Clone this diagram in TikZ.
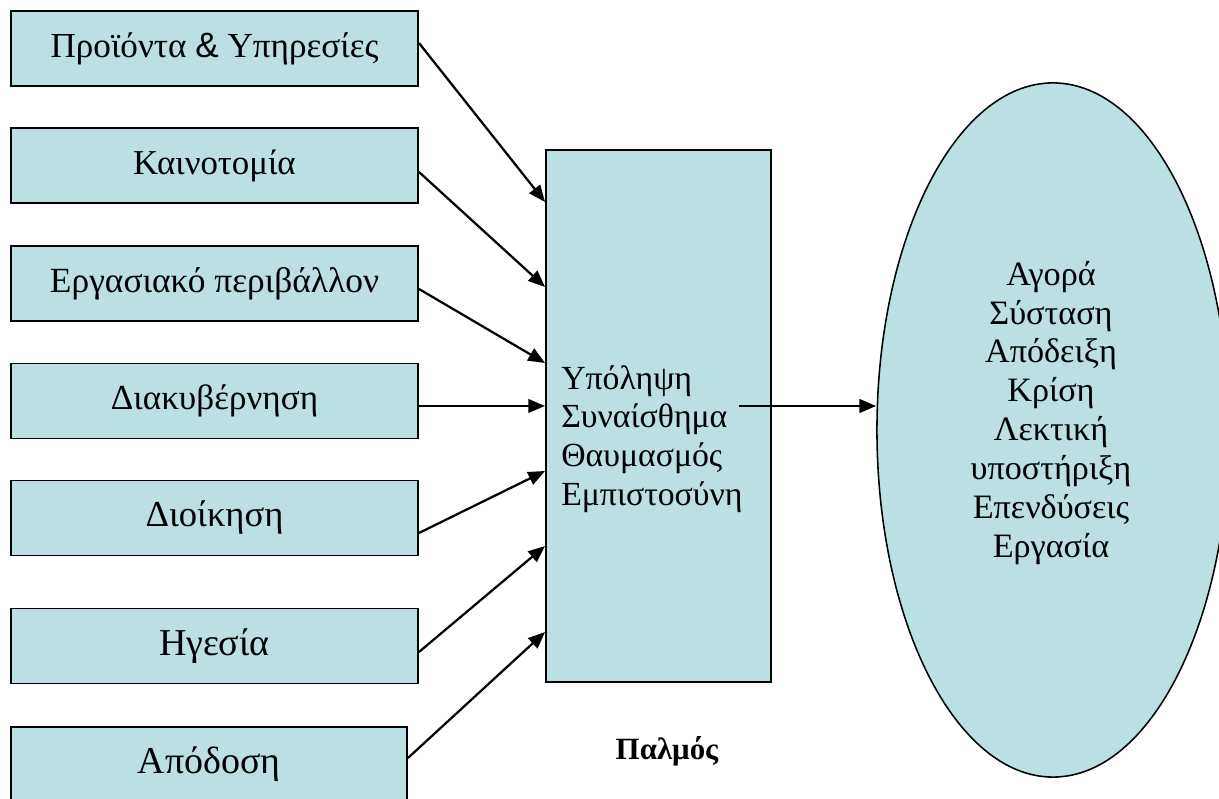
\documentclass[tikz,border=0pt]{standalone}
\usepackage{fontspec}
\setmainfont{Liberation Serif}
\setsansfont{Liberation Sans}
\usepackage{tikz}
\usetikzlibrary{shapes.geometric}
\usetikzlibrary{arrows.meta}
\usetikzlibrary{calc}
\definecolor{boxblue}{RGB}{186,224,227}
\tikzstyle{factor}=[rectangle, draw, line width=1.3pt, fill=boxblue, minimum width=10.175cm, minimum height=1.875cm, inner sep=0pt, font=\fontsize{25}{28}\selectfont]
\tikzstyle{flow}=[line width=1.6pt, -{Triangle[length=0.42cm, width=0.34cm]}]

\begin{document}
\begin{tikzpicture}[x=0.025cm, y=-0.025cm]
            \clip (0,0) rectangle (1219,799);
            % Παράγοντες
            \node[factor] (b1) at (214.5,48.5) {Προϊόντα {\sffamily\&} Υπηρεσίες};
            \node[factor, font=\fontsize{24.8}{28}\selectfont] (b2) at (214.5,165.5) {Καινοτομία};
            \node[factor, font=\fontsize{25.2}{28}\selectfont] (b3) at (214.5,283.5) {Εργασιακό περιβάλλον};
            \node[factor] (b4) at (214.5,401) {Διακυβέρνηση};
            \node[factor, font=\fontsize{26}{28}\selectfont] (b5) at (214.5,518) {Διοίκηση};
            \node[factor, font=\fontsize{27}{28}\selectfont] (b6) at (214.5,646) {Ηγεσία};
            \node[factor, minimum width=9.9cm, font=\fontsize{27}{28}\selectfont] (b7) at (209,764.5) {Απόδοση};
            % Παλμός
            \node[rectangle, draw, line width=1.3pt, fill=boxblue, minimum width=5.625cm, minimum height=13.3cm] (pulse) at (658.5,416) {};
            \node[anchor=west, align=left, inner sep=0pt, font=\fontsize{24}{27.5}\selectfont] (pulsetxt) at (561,439) {Υπόληψη\\Συναίσθημα\\Θαυμασμός\\Εμπιστοσύνη};
            \node[font=\fontsize{22}{24}\selectfont\bfseries] (pulselbl) at (667,751) {Παλμός};
            % Αποτελέσματα
            \node[ellipse, draw, line width=1.1pt, fill=boxblue, minimum width=8.8cm, minimum height=17.35cm, inner sep=0pt] (market) at (1053,430) {};
            \node[align=center, inner sep=0pt, font=\fontsize{24.3}{27.7}\selectfont] (markettxt) at (1051,413) {Αγορά\\Σύσταση\\Απόδειξη\\Κρίση\\Λεκτική\\υποστήριξη\\Επενδύσεις\\Εργασία};
            % Βέλη
            \draw[flow] ($(b1.east)+(0,-5.5)$) -- ($(pulse.west)+(0,-214)$);
            \draw[flow] ($(b2.east)+(0,6.5)$) -- ($(pulse.west)+(0,-129)$);
            \draw[flow] ($(b3.east)+(0,5.5)$) -- ($(pulse.west)+(0,-53)$);
            \draw[flow] ($(b4.east)+(0,5)$) -- ($(pulse.west)+(0,-10)$);
            \draw[flow] ($(b5.east)+(0,15)$) -- ($(pulse.west)+(0,55)$);
            \draw[flow] ($(b6.east)+(0,6)$) -- ($(pulse.west)+(0,130)$);
            \draw[flow] ($(b7.east)+(0,-6.5)$) -- ($(pulse.west)+(0,216)$);
            \draw[flow] ($(pulse.east)+(-33,-10)$) -- ($(market.west)+(0,-24)$);
        \end{tikzpicture}
\end{document}
